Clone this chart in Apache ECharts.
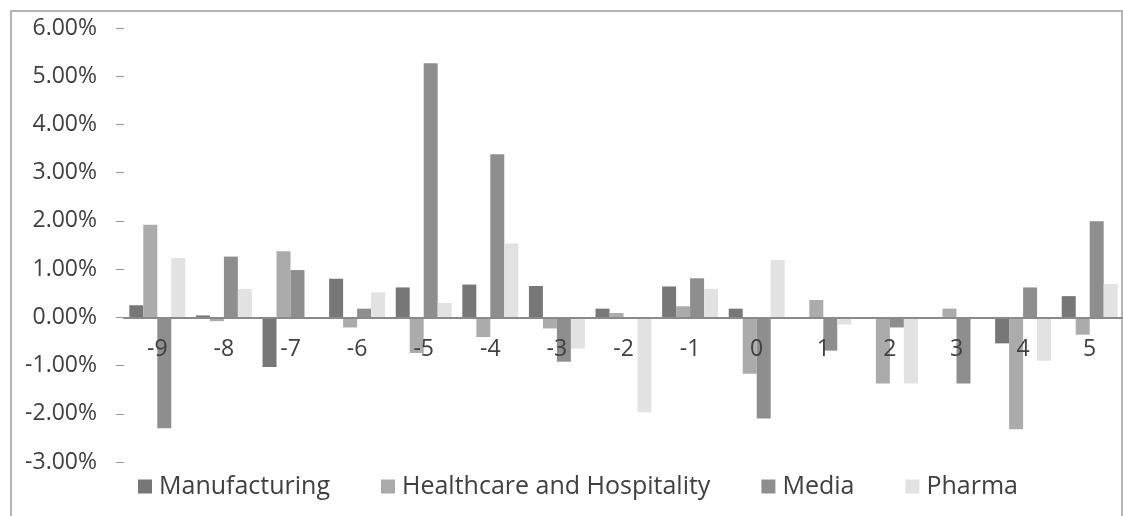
<!DOCTYPE html>
<html>
<head>
<meta charset="utf-8">
<script src="https://cdn.jsdelivr.net/npm/echarts@6/dist/echarts.min.js"></script>
<style>
    html, body { margin: 0; padding: 0; background: #fff; }
    .frame {
        position: absolute;
        left: 10px; top: 10px;
        width: 1109px; height: 520px;
        border: 2px solid #b5b5b5;
    }
    #chart { position: absolute; left: 0; top: 0; width: 1123px; height: 516px; }
</style>
</head>
<body>
<div class="frame"></div>
<div id="chart"></div>
<script>
// categories (event days)
const days = ['-9', '-8', '-7', '-6', '-5', '-4', '-3', '-2', '-1', '0', '1', '2', '3', '4', '5']
// values in %
const manufacturing = [0.25, 0.04, -1.03, 0.80, 0.62, 0.68, 0.65, 0.18, 0.64, 0.18, 0.00, 0.00, -0.03, -0.54, 0.44]
const healthcare = [1.92, -0.08, 1.37, -0.21, -0.74, -0.41, -0.23, 0.09, 0.23, -1.17, 0.36, -1.37, 0.18, -2.32, -0.36]
const media = [-2.30, 1.26, 0.98, 0.18, 5.27, 3.38, -0.92, 0.00, 0.81, -2.10, -0.69, -0.21, -1.37, 0.62, 1.99]
const pharma = [1.23, 0.59, 0.00, 0.52, 0.30, 1.53, -0.65, -1.97, 0.59, 1.19, -0.15, -1.37, 0.00, -0.90, 0.69]

const yMin = -3
const yMax = 6
const textFont = 'Open Sans'

const gridTop = 28
const gridBottom = 54
const chartHeight = 516
// the category axis sits on the zero line, so shift it up from the grid bottom
const zeroOffset = -(chartHeight - gridTop - gridBottom) * (0 - yMin) / (yMax - yMin)

const myChart = echarts.init(document.getElementById('chart'))

function makeSeries(name, data, color) {
    return {
        name: name,
        type: 'bar',
        data: data,
        barGap: '0%',
        barCategoryGap: '16%',
        itemStyle: { color: color }
    }
}

const options = {
    animation: false,
    grid: {
        left: 124,
        right: 0,
        top: gridTop,
        bottom: gridBottom
    },
    legend: {
        left: 133,
        top: 469,
        itemWidth: 14,
        itemHeight: 14,
        itemGap: 51,
        icon: 'rect',
        textStyle: {
            fontFamily: textFont,
            fontSize: 25,
            color: '#404040',
            padding: [0, 0, 0, 2]
        }
    },
    xAxis: {
        type: 'category',
        data: days,
        position: 'bottom',
        offset: zeroOffset,
        z: 10,
        axisLine: {
            onZero: false,
            lineStyle: { color: '#8a8a8a', width: 2 }
        },
        axisTick: { show: false },
        axisLabel: {
            margin: 21,
            fontFamily: textFont,
            fontSize: 23,
            color: '#404040'
        }
    },
    yAxis: {
        type: 'value',
        min: yMin,
        max: yMax,
        interval: 1,
        axisLine: { show: false },
        axisTick: {
            show: true,
            length: 8,
            lineStyle: { color: '#9a9a9a' }
        },
        splitLine: { show: false },
        axisLabel: {
            margin: 27,
            fontFamily: textFont,
            fontSize: 23,
            color: '#404040',
            formatter: v => v.toFixed(2) + '%'
        }
    },
    series: [
        makeSeries('Manufacturing', manufacturing, '#777777'),
        makeSeries('Healthcare and Hospitality', healthcare, '#ababab'),
        makeSeries('Media', media, '#8e8e8e'),
        makeSeries('Pharma', pharma, '#e2e2e2')
    ]
}
myChart.setOption(options)
</script>
</body>
</html>
